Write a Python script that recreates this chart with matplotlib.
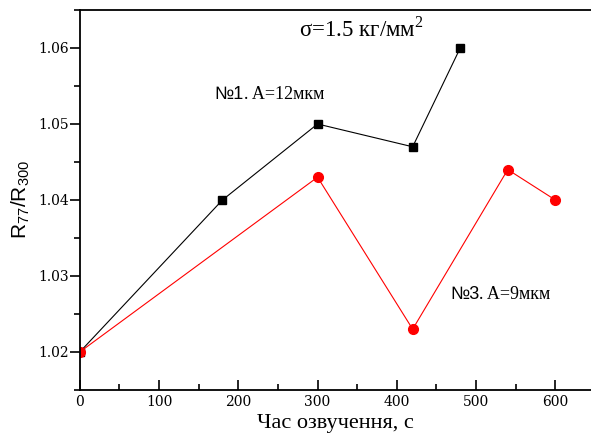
import matplotlib
matplotlib.use('Agg')
import matplotlib.pyplot as plt
from matplotlib.ticker import MultipleLocator

# data
t1 = [0, 180, 300, 420, 480]
r1 = [1.020, 1.040, 1.050, 1.047, 1.060]
t3 = [0, 300, 420, 540, 600]
r3 = [1.020, 1.043, 1.023, 1.044, 1.040]

fig = plt.figure(figsize=(5.91, 4.46), dpi=100)
ax = fig.add_axes([0.135, 0.1256, 0.865, 0.852])

ax.plot(t1, r1, 'k-', lw=0.8, marker='s', ms=6)
ax.plot(t3, r3, 'r-', lw=0.8, marker='o', ms=7)

ax.set_xlim(0, 645)
ax.set_ylim(1.015, 1.065)
ax.xaxis.set_major_locator(MultipleLocator(100))
ax.xaxis.set_minor_locator(MultipleLocator(50))
ax.yaxis.set_major_locator(MultipleLocator(0.01))
ax.yaxis.set_minor_locator(MultipleLocator(0.005))
ax.yaxis.set_major_formatter(plt.FormatStrFormatter('%.2f'))

ax.spines['right'].set_visible(False)
for s in ['left', 'bottom', 'top']:
    ax.spines[s].set_linewidth(1.3)

ax.tick_params(axis='x', which='both', direction='in', width=1.2)
ax.tick_params(axis='x', which='major', length=7)
ax.tick_params(axis='x', which='minor', length=4)
ax.tick_params(axis='y', which='both', direction='out', width=1.2, pad=1)
ax.tick_params(axis='y', which='major', length=7)
ax.tick_params(axis='y', which='minor', length=4)
for lab in ax.get_xticklabels() + ax.get_yticklabels():
    lab.set_family('DejaVu Serif')
    lab.set_fontsize(10)

ax.set_xlabel('Час озвучення, с', family='Liberation Serif', fontsize=16)
ax.set_ylabel(r'$\mathregular{R_{77}/R_{300}}$', family='Liberation Sans', fontsize=15,
              labelpad=4)

ax.text(277, 1.0625, r'σ=1.5 кг/мм$^\mathregular{2}$', family='Liberation Serif',
        fontsize=16.5, ha='left', va='center')


def sample_label(x, y, num, rest):
    n = ax.text(x, y, num, family='Liberation Sans', fontsize=13, va='baseline')
    ax.annotate(rest, xy=(1, 0), xycoords=n, va='bottom',
                family='Liberation Serif', fontsize=13)


sample_label(170, 1.0533, '№1', '. A=12мкм')
sample_label(467, 1.0270, '№3', '. A=9мкм')

fig.savefig('out.png', dpi=100)
